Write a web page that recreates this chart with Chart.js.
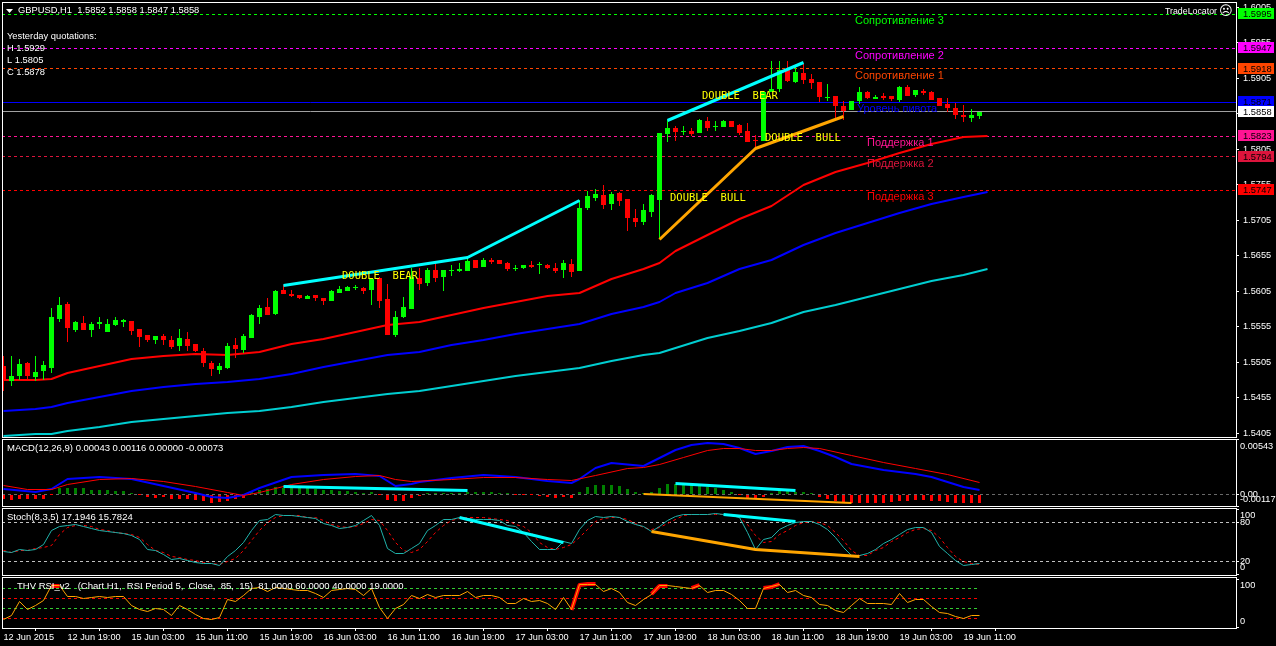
<!DOCTYPE html>
<html>
<head>
<meta charset="utf-8">
<title>GBPUSD,H1</title>
<script src="https://cdn.jsdelivr.net/npm/chart.js@4"></script>
<style>
html, body { margin: 0; padding: 0; background: #000; overflow: hidden; }
canvas { position: absolute; left: 0; }
</style>
</head>
<body>
<canvas id="mainChart" width="1276" height="438" style="top:0"></canvas>
<canvas id="macdChart" width="1276" height="69" style="top:438px"></canvas>
<canvas id="stochChart" width="1276" height="69" style="top:507px"></canvas>
<canvas id="rsiChart" width="1276" height="70" style="top:576px"></canvas>
<script>
// candles, one entry per H1 bar
const opens = [1.54994,1.54783,1.54853,1.55036,1.54839,1.54924,1.54966,1.55656,1.55868,1.55501,1.55600,1.55501,1.55586,1.55473,1.55572,1.55614,1.55628,1.55515,1.55431,1.55360,1.55417,1.55360,1.55276,1.55375,1.55304,1.55205,1.55036,1.54938,1.54966,1.55290,1.55219,1.55389,1.55684,1.55825,1.55727,1.56065,1.56009,1.55994,1.55938,1.55994,1.55952,1.55910,1.56023,1.56051,1.56093,1.56093,1.56065,1.56234,1.55938,1.55431,1.55684,1.55797,1.56234,1.56164,1.56347,1.56248,1.56333,1.56333,1.56333,1.56488,1.56389,1.56488,1.56488,1.56445,1.56361,1.56375,1.56417,1.56417,1.56417,1.56375,1.56347,1.56431,1.56333,1.57220,1.57361,1.57403,1.57277,1.57432,1.57347,1.57079,1.57023,1.57164,1.57333,1.58263,1.58348,1.58291,1.58305,1.58277,1.58446,1.58362,1.58362,1.58446,1.58390,1.58305,1.58178,1.58164,1.58855,1.58897,1.59165,1.58996,1.59122,1.59038,1.58996,1.58770,1.58798,1.58657,1.58601,1.58728,1.58855,1.58756,1.58798,1.58798,1.58742,1.58925,1.58812,1.58869,1.58855,1.58770,1.58686,1.58629,1.58531,1.58489,1.58520];
const highs = [1.55135,1.55135,1.55093,1.55050,1.55135,1.55065,1.55811,1.55966,1.55896,1.55628,1.55699,1.55614,1.55684,1.55656,1.55684,1.55656,1.55628,1.55515,1.55431,1.55417,1.55445,1.55417,1.55515,1.55473,1.55304,1.55248,1.55065,1.55036,1.55318,1.55389,1.55445,1.55727,1.55854,1.55952,1.56065,1.56135,1.56065,1.55994,1.55994,1.55994,1.55952,1.56065,1.56121,1.56121,1.56135,1.56107,1.56220,1.56248,1.56149,1.55769,1.55966,1.56375,1.56375,1.56375,1.56459,1.56347,1.56417,1.56445,1.56530,1.56488,1.56516,1.56516,1.56488,1.56459,1.56417,1.56417,1.56474,1.56459,1.56431,1.56445,1.56488,1.56502,1.57333,1.57460,1.57488,1.57544,1.57446,1.57446,1.57347,1.57206,1.57277,1.57418,1.58277,1.58460,1.58376,1.58376,1.58348,1.58474,1.58503,1.58446,1.58460,1.58446,1.58404,1.58418,1.58249,1.58855,1.59292,1.59292,1.59292,1.59207,1.59249,1.59108,1.58996,1.58967,1.58798,1.58728,1.58728,1.58925,1.58869,1.58812,1.58841,1.58798,1.58939,1.58953,1.58883,1.58897,1.58869,1.58770,1.58770,1.58700,1.58671,1.58615,1.58580];
const lows = [1.54642,1.54712,1.54797,1.54797,1.54783,1.54797,1.54895,1.55614,1.55332,1.55473,1.55501,1.55403,1.55515,1.55473,1.55558,1.55544,1.55431,1.55262,1.55332,1.55304,1.55290,1.55234,1.55205,1.55205,1.55191,1.54980,1.54853,1.54881,1.54952,1.55107,1.55177,1.55389,1.55586,1.55713,1.55713,1.56009,1.55966,1.55938,1.55938,1.55910,1.55854,1.55910,1.56023,1.56051,1.56065,1.56009,1.55854,1.55811,1.55431,1.55403,1.55670,1.55797,1.56065,1.56121,1.56178,1.56051,1.56262,1.56319,1.56333,1.56375,1.56389,1.56431,1.56431,1.56333,1.56333,1.56361,1.56375,1.56290,1.56361,1.56304,1.56234,1.56248,1.56333,1.57192,1.57319,1.57206,1.57192,1.57248,1.56896,1.56953,1.56981,1.57093,1.56783,1.58150,1.58164,1.58249,1.58235,1.58277,1.58305,1.58305,1.58362,1.58362,1.58249,1.58150,1.58037,1.58164,1.58855,1.58855,1.58996,1.58982,1.58967,1.58897,1.58714,1.58728,1.58460,1.58460,1.58601,1.58686,1.58756,1.58756,1.58742,1.58728,1.58714,1.58798,1.58784,1.58812,1.58742,1.58657,1.58573,1.58474,1.58432,1.58432,1.58470];
const closes = [1.54797,1.54853,1.55022,1.54853,1.54910,1.55008,1.55684,1.55854,1.55529,1.55614,1.55501,1.55586,1.55614,1.55586,1.55642,1.55642,1.55487,1.55403,1.55360,1.55417,1.55360,1.55262,1.55389,1.55276,1.55205,1.55036,1.54952,1.54994,1.55276,1.55234,1.55417,1.55713,1.55811,1.55713,1.56051,1.56009,1.55980,1.55952,1.55980,1.55952,1.55910,1.56051,1.56079,1.56107,1.56107,1.56051,1.56220,1.55910,1.55431,1.55684,1.55825,1.56248,1.56149,1.56347,1.56234,1.56347,1.56347,1.56361,1.56474,1.56375,1.56488,1.56459,1.56431,1.56361,1.56375,1.56417,1.56389,1.56431,1.56375,1.56333,1.56445,1.56319,1.57220,1.57389,1.57418,1.57263,1.57418,1.57319,1.57079,1.57023,1.57192,1.57403,1.58277,1.58348,1.58291,1.58305,1.58263,1.58460,1.58348,1.58376,1.58446,1.58362,1.58277,1.58150,1.58164,1.58855,1.58897,1.59165,1.59010,1.59136,1.59024,1.58982,1.58784,1.58784,1.58657,1.58587,1.58728,1.58855,1.58770,1.58784,1.58770,1.58756,1.58925,1.58798,1.58883,1.58841,1.58742,1.58657,1.58629,1.58531,1.58503,1.58531,1.58580];

// moving averages, read every few bars
const maBars = [0,4,6,8,12,16,20,24,28,32,36,40,44,48,52,56,60,64,68,72,76,80,82,84,88,92,96,100,104,108,112,116,120,123];
const maRed = [1.54797,1.54797,1.54811,1.54895,1.54994,1.55088,1.55135,1.55163,1.55149,1.55191,1.55304,1.55379,1.55477,1.55568,1.55610,1.55717,1.55816,1.55892,1.55976,1.56027,1.56224,1.56368,1.56445,1.56614,1.56840,1.57065,1.57248,1.57544,1.57732,1.57854,1.57995,1.58122,1.58216,1.58235];
const maBlue = [1.54360,1.54392,1.54421,1.54469,1.54557,1.54638,1.54694,1.54745,1.54773,1.54815,1.54881,1.54987,1.55065,1.55149,1.55187,1.55286,1.55360,1.55445,1.55511,1.55582,1.55723,1.55830,1.55900,1.56018,1.56159,1.56357,1.56488,1.56699,1.56872,1.57005,1.57146,1.57277,1.57380,1.57441];
const maAqua = [1.54008,1.54036,1.54043,1.54074,1.54135,1.54201,1.54247,1.54294,1.54328,1.54356,1.54416,1.54483,1.54547,1.54600,1.54642,1.54712,1.54783,1.54853,1.54914,1.54962,1.55065,1.55149,1.55173,1.55252,1.55384,1.55487,1.55596,1.55751,1.55854,1.55971,1.56079,1.56192,1.56276,1.56357];

// trend lines on the price panel
const cyanBarsA = [35,58,72];
const cyanPricesA = [1.56135,1.56526,1.57323];
const cyanBarsB = [83,100];
const cyanPricesB = [1.58450,1.59277];
const orangeBars = [82,94,105];
const orangePrices = [1.56779,1.58052,1.58507];

// daily pivot levels
const levelPrices = [1.5995,1.5947,1.5918,1.5871,1.5858,1.5823,1.5794,1.5747];
const levelFlags = ['1.5995','1.5947','1.5918','1.5871','1.5858','1.5823','1.5794','1.5747'];
const levelColors = ['#00ff00','#ff00ff','#ff4500','#0000ff','#a0a0a0','#ff1493','#dc143c','#ff0000'];
const flagColors = ['#00ff00','#ff00ff','#ff4500','#0000ff','#ffffff','#ff1493','#dc143c','#ff0000'];
const priceTicks = [1.5405,1.5455,1.5505,1.5555,1.5605,1.5655,1.5705,1.5755,1.5805,1.5855,1.5905,1.5955,1.6005];

// MACD
const macdHist = [-.00046,-.00056,-.0005,-.0005,-.0005,-.00046,-.00003,.00059,.00059,.00059,.00059,.00046,.00046,.0004,.00033,.00033,.0001,-.00007,-.00023,-.0004,-.0003,-.00043,-.00043,-.00046,-.00059,-.00066,-.00083,-.00079,-.00063,-.0005,-.00033,.00017,.0004,.00053,.00073,.00066,.00066,.00066,.00066,.00053,.00046,.0004,.00033,.00033,.0002,.00013,.0002,-.00003,-.00053,-.00066,-.00066,-.00033,-.00013,0,.00003,.00003,.00007,.00013,.0002,.0002,.0002,.0002,.0001,.00003,-.00003,-.00007,-.0001,-.00017,-.00023,-.00033,-.0003,-.00033,.00017,.00073,.00089,.00089,.00089,.00083,.0005,.00023,.00003,.0002,.00066,.00099,.00106,.00092,.00089,.00083,.00073,.00066,.00043,.0002,-.00007,-.00033,-.00033,-.00026,.00003,.0003,.0003,.00023,.0002,.00003,-.00023,-.00046,-.00063,-.00073,-.00083,-.00092,-.00086,-.00089,-.00083,-.00076,-.00069,-.00066,-.00053,-.00059,-.00069,-.00069,-.00076,-.00086,-.00089,-.00086,-.00083];
const macdMainBars = [0,4,6,8,12,16,20,24,26,28,30,32,36,40,44,47,49,51,52,56,60,64,68,71,72,74,76,80,82,84,86,88,90,92,94,96,98,100,102,104,106,108,110,112,114,116,118,120,122];
const macdMain = [.0005,.00026,.0005,.00149,.00175,.00155,.00083,.0001,-.00026,-.0004,-.0001,.00066,.00172,.00188,.00205,.00185,.00083,.00099,.00125,.00165,.00191,.00175,.00132,.00116,.00155,.00264,.00307,.00281,.00363,.00439,.00488,.00508,.00502,.00462,.00403,.00429,.00472,.00479,.00429,.00373,.00297,.00274,.00241,.00221,.00198,.00175,.00122,.00076,.00043];
const macdSignalBars = [0,3,6,8,12,16,20,24,28,30,32,36,40,44,47,49,51,56,60,64,68,71,74,78,80,82,85,88,90,92,94,96,98,100,102,106,110,114,118,122];
const macdSignal = [.00083,.0005,.00043,.00099,.00142,.00155,.00122,.00076,.00017,-.0001,.00017,.00099,.00149,.00178,.00182,.00149,.00129,.00149,.00168,.00165,.00149,.00139,.00182,.00257,.00264,.00297,.00363,.00429,.00455,.00452,.00432,.00436,.00455,.00459,.00452,.00389,.00314,.00257,.00198,.00116];
const macdCyanBarsA = [35,58];
const macdCyanA = [.00076,.00033];
const macdCyanBarsB = [84,99];
const macdCyanB = [.00102,.00033];
const macdOrangeBars = [80,106];
const macdOrange = [.00003,-.00086];
const macdTicks = [-.00117,0,.00543];
const macdTickLabels = [['-0.00117',''],'0.00',['','0.00543']];

// Stochastic
const stochMain = [34.4,32.8,38.5,37,38.5,45.6,66.7,73.3,75.4,77,74,71,66.7,66,64,62.6,60,52.8,38.5,36,31,23,24,21.5,18,16.4,16,14,28,36,48.7,67.7,83,84.6,91.8,90.8,89.7,88.7,87,86,78,75.4,70.8,71.8,74.4,83,89.7,74.4,39.5,32.3,32.3,39.5,47.7,66.7,75.4,84.6,84.6,87,85.6,84.6,84.6,83.6,82,75.4,73.3,64.1,49.7,37.4,37.4,37.4,49.7,47.7,69.2,82,88.2,87.2,89.2,87.2,80.5,76.9,72.8,65.6,72.8,82,88.7,91.8,92.3,92.3,92.3,92.8,92.3,89.7,87.2,64.1,37.4,52.8,56.4,69.2,75.4,79.5,80.5,81,76.9,69.2,56.4,41,28.2,28.2,32.3,38.5,47.7,52.8,61.5,69.2,71.8,71.8,64.1,42.6,32.3,20.5,13.8,15.4,17.19];
const stochSignal = [35.9,33,36,37,39.5,41,44.6,61.5,71.8,75.4,75.4,73.3,69,66.7,65,63,61,56.4,46,36,33,27,25.6,23,20.5,18,16.4,15.4,19,24,36,51.3,68,79.5,87,89.7,89.7,89.7,88,87,82,77,73.3,72.3,73.3,78.5,84.6,82,66.7,48.7,36,33,38.5,49.7,64,75.4,82,86,87,86.7,86.7,85.6,84.6,82,77,73.3,64,48.7,41,37.4,41,46,56.4,69,80.5,86,88,87,84.6,78.5,71.8,69,71.8,78.5,84.6,89.7,91.8,92.3,92.3,92.3,92.3,91.3,87,77,59,48.7,49.7,61.5,66.7,74.4,79.5,81.5,79.5,74.4,64,51.3,36,29,29,36,41,49.7,56.4,65,69,70,66.7,56.4,41,28,19,17,15.78];
const stochCyanBarsA = [57,70];
const stochCyanA = [87.2,48.7];
const stochCyanBarsB = [90,99];
const stochCyanB = [91.8,81];
const stochOrangeBars = [81,94,107];
const stochOrange = [65.6,37.4,27.2];
const stochLevels = [80,20];
const stochTicks = [0,20,80,100];
const stochTickLabels = [['0',''],'20','80',['','100']];

// THV RSI
const rsiValues = [15.6,23.8,52.8,37.6,44.5,56.2,86,86,63,63.8,59.6,61.7,63.8,62.4,64.5,64.5,44.5,37.6,32.8,39.7,37.6,25.2,45.9,36.2,27.3,19,15.6,20.4,58.3,53.4,65.2,81,82.4,73.4,82.4,80.3,79,76.9,75.5,70.7,61,75.5,79,80.3,79,66.5,81,41,19,39,48,66.5,60.3,68.6,61.7,65.2,66.5,66.5,74.1,61.7,66.5,65.2,61.7,50,50,59.6,54.1,56.2,50,37.6,62.4,36.2,87.9,89.3,89.3,74.1,81,72,51.4,45.9,58.3,68.6,85.8,85.8,84.4,82.4,81,87.2,72,75.5,76.2,68.6,54.8,39.7,39.7,81,84.4,89.3,72,76.9,66.5,61.7,46.6,44.5,35.5,30.7,44.5,60.3,50,50,50,48,70,51.4,58.3,56.9,43,32,29.3,22.4,18.3,25.2,25.2];
const rsiHotStart = [6,71,81,86,95];
const rsiHotEnd = [7,74,83,87,97];
const rsiLevels = [81,60,40,19];
const rsiLevelColors = ['#32cd32','#ff0000','#32cd32','#ff0000'];
const rsiTicks = [0,100];
const rsiTickLabels = [['0',''],['','100']];

// time axis
const timeBars = [0,8,16,24,32,40,48,56,64,72,80,88,96,104,112,120];
const timeLabels = ['12 Jun 2015','12 Jun 19:00','15 Jun 03:00','15 Jun 11:00','15 Jun 19:00','16 Jun 03:00','16 Jun 11:00','16 Jun 19:00','17 Jun 03:00','17 Jun 11:00','17 Jun 19:00','18 Jun 03:00','18 Jun 11:00','18 Jun 19:00','19 Jun 03:00','19 Jun 11:00'];

const GREEN = '#00ff00', RED = '#ff0000', CYAN = '#00ffff', ORANGE = '#ffa500', WHITE = '#ffffff';
const SANS = '"Liberation Sans"';
const X_MIN = -0.1875, X_MAX = 154.0625;
const LAST_BAR = opens.length - 1;

function pts(bars, vals) {
    return bars.map(function (b, i) { return { x: b, y: vals[i] }; });
}

function flat(value, from, to) {
    return [{ x: from, y: value }, { x: to, y: value }];
}

function line(data, color, width, order, dash) {
    return {
        type: 'line', data: data, borderColor: color, borderWidth: width, order: order,
        borderDash: dash || [], pointRadius: 0, tension: 0, fill: false, borderJoinStyle: 'round'
    };
}

function bars(data, colors, thickness, order) {
    return {
        type: 'bar', data: data, backgroundColor: colors, barThickness: thickness, order: order,
        grouped: false, borderWidth: 0, inflateAmount: 0
    };
}

// MT4 draws without antialiasing, so push marks onto whole pixels
const snapPlugin = {
    id: 'snap',
    afterDatasetsUpdate: function (chart) {
        chart.data.datasets.forEach(function (ds, i) {
            chart.getDatasetMeta(i).data.forEach(function (el) {
                if (ds.type === 'bar') {
                    el.y = Math.round(el.y);
                    el.base = Math.round(el.base);
                    if (el.y === el.base) el.y = el.base - 1;
                } else if (ds.borderWidth % 2 === 1) {
                    el.y = Math.floor(el.y) + 0.5;
                } else {
                    el.y = Math.round(el.y);
                }
            });
        });
    }
};

const framePlugin = {
    id: 'frame',
    afterDraw: function (chart) {
        const a = chart.chartArea, ctx = chart.ctx;
        ctx.save();
        ctx.strokeStyle = WHITE;
        ctx.lineWidth = 1;
        ctx.strokeRect(a.left + 0.5, a.top + 0.5, a.right - a.left, a.bottom - a.top);
        ctx.restore();
    }
};

function label(ctx, text, x, y, color, font) {
    ctx.fillStyle = color;
    ctx.font = font;
    ctx.textAlign = 'left';
    ctx.textBaseline = 'middle';
    ctx.fillText(text, x, y);
}

function captionPlugin(draw) {
    return { id: 'caption', afterDraw: function (chart) { chart.ctx.save(); draw(chart); chart.ctx.restore(); } };
}

function xAxis(show) {
    return {
        type: 'linear', min: X_MIN, max: X_MAX, offset: false, display: show,
        afterBuildTicks: function (scale) {
            scale.ticks = timeBars.map(function (b) { return { value: b }; });
        },
        afterFit: function (scale) {
            if (show) scale.height = 18;
            scale.paddingLeft = 0;
            scale.paddingRight = 0;
        },
        border: { display: false },
        grid: { drawOnChartArea: false, drawTicks: true, tickLength: 3, tickColor: WHITE },
        ticks: {
            autoSkip: false, maxRotation: 0, align: 'start', padding: 1, color: WHITE,
            font: { family: SANS, size: 9.2 },
            callback: function (v, i) { return timeLabels[i]; }
        }
    };
}

function yAxis(min, max, ticks, labels, pad) {
    return {
        type: 'linear', position: 'right', min: min, max: max,
        afterBuildTicks: function (scale) {
            scale.ticks = ticks.map(function (v) { return { value: v }; });
        },
        afterFit: function (scale) {
            scale.width = 40;
            scale.paddingTop = 0;
            scale.paddingBottom = 0;
        },
        border: { display: false },
        grid: { drawOnChartArea: false, drawTicks: true, tickLength: 3, tickColor: WHITE },
        ticks: {
            autoSkip: false, padding: pad, color: WHITE,
            font: { family: SANS, size: 9.2, lineHeight: '13px' },
            callback: function (v, i) { return labels[i]; }
        }
    };
}

function panel(id, datasets, yScale, padTop, padBottom, showTime, plugin) {
    return new Chart(document.getElementById(id), {
        type: 'bar',
        data: { datasets: datasets },
        plugins: [snapPlugin, framePlugin, plugin],
        options: {
            responsive: false, animation: false, devicePixelRatio: 1,
            layout: { padding: { left: 2, right: 0, top: padTop, bottom: padBottom } },
            plugins: { legend: { display: false }, tooltip: { enabled: false } },
            scales: { x: xAxis(showTime), y: yScale }
        }
    });
}

//
// price panel
//
const candleColors = opens.map(function (o, i) { return closes[i] >= o ? GREEN : RED; });
const bodies = opens.map(function (o, i) { return { x: i, y: [o, closes[i]] }; });
const wicks = lows.map(function (l, i) { return { x: i, y: [l, highs[i]] }; });

const mainSets = [
    line(pts(cyanBarsA, cyanPricesA), CYAN, 3, 1),
    line(pts(cyanBarsB, cyanPricesB), CYAN, 3, 1),
    line(pts(orangeBars, orangePrices), ORANGE, 3, 1),
    bars(bodies, candleColors, 5, 2),
    bars(wicks, candleColors, 1, 2),
    line(pts(maBars, maRed), RED, 2, 3),
    line(pts(maBars, maBlue), '#0000ff', 2, 3),
    line(pts(maBars, maAqua), '#00ced1', 2, 3)
];
levelPrices.forEach(function (p, i) {
    const solid = i === 3 || i === 4;
    mainSets.push(line(flat(p, X_MIN, X_MAX), levelColors[i], 1, 4, solid ? [] : [3, 3]));
});

const mainCaption = captionPlugin(function (chart) {
    const ctx = chart.ctx, y = chart.scales.y;
    const small = '9.35px ' + SANS, big = '11px ' + SANS, mono = '10.5px "DejaVu Sans Mono"';

    ctx.fillStyle = WHITE;
    ctx.beginPath();
    ctx.moveTo(6, 9);
    ctx.lineTo(13, 9);
    ctx.lineTo(9.5, 13);
    ctx.closePath();
    ctx.fill();
    label(ctx, 'GBPUSD,H1  1.5852 1.5858 1.5847 1.5858', 18, 10, WHITE, small);
    label(ctx, 'Yesterday quotations:', 7, 36, WHITE, small);
    label(ctx, 'H 1.5929', 7, 48, WHITE, small);
    label(ctx, 'L 1.5805', 7, 60, WHITE, small);
    label(ctx, 'C 1.5878', 7, 72, WHITE, small);
    label(ctx, 'TradeLocator', 1165, 12, WHITE, '8.8px ' + SANS);
    label(ctx, '\u2639', 1219, 12, WHITE, '13px "DejaVu Sans"');

    label(ctx, 'DOUBLE  BEAR', 342, 276, '#ffff00', mono);
    label(ctx, 'DOUBLE  BULL', 670, 198, '#ffff00', mono);
    label(ctx, 'DOUBLE  BEAR', 702, 96, '#ffff00', mono);
    label(ctx, 'DOUBLE  BULL', 765, 138, '#ffff00', mono);

    label(ctx, 'Сопротивление 3', 855, 21, '#00ff00', big);
    label(ctx, 'Сопротивление 2', 855, 56, '#ff00ff', big);
    label(ctx, 'Сопротивление 1', 855, 76, '#ff4500', big);
    label(ctx, 'Уровень пивота', 857, 109, '#0000ff', big);
    label(ctx, 'Поддержка 1', 867, 143, '#ff1493', big);
    label(ctx, 'Поддержка 2', 867, 164, '#dc143c', big);
    label(ctx, 'Поддержка 3', 867, 197, '#ff0000', big);

    // price flags on the right hand axis
    levelPrices.forEach(function (p, i) {
        const py = Math.round(y.getPixelForValue(p));
        ctx.fillStyle = flagColors[i];
        ctx.fillRect(1238, py - 6, 36, 11);
        label(ctx, levelFlags[i], 1243, py, '#000000', small);
    });
});

panel('mainChart', mainSets,
    yAxis(1.53994, 1.60123, priceTicks, priceTicks.map(function (v) { return v.toFixed(4); }), 4),
    2, 1, false, mainCaption);

//
// MACD panel
//
const histBars = macdHist.map(function (v, i) { return { x: i, y: [0, v] }; });
const histColors = macdHist.map(function (v) { return v >= 0 ? '#008000' : RED; });

panel('macdChart', [
    line(pts(macdCyanBarsA, macdCyanA), CYAN, 3, 1),
    line(pts(macdCyanBarsB, macdCyanB), CYAN, 3, 1),
    line(pts(macdOrangeBars, macdOrange), ORANGE, 2, 1),
    line(pts(macdSignalBars, macdSignal), RED, 1, 2),
    line(pts(macdMainBars, macdMain), '#0000ff', 2, 3),
    bars(histBars, histColors, 3, 4),
    line(flat(0, X_MIN, X_MAX), '#696969', 1, 5, [3, 3])
], yAxis(-.00117, .00548, macdTicks, macdTickLabels, 1), 1, 1, false, captionPlugin(function (chart) {
    label(chart.ctx, 'MACD(12,26,9) 0.00043 0.00116 0.00000 -0.00073', 7, 448.5 - 438, WHITE, '9.5px ' + SANS);
}));

//
// stochastic panel
//
const stochBars = stochMain.map(function (v, i) { return i; });
const stochSets = [
    line(pts(stochCyanBarsA, stochCyanA), CYAN, 3, 1),
    line(pts(stochCyanBarsB, stochCyanB), CYAN, 3, 1),
    line(pts(stochOrangeBars, stochOrange), ORANGE, 3, 1),
    line(pts(stochBars, stochMain), '#20b2aa', 1, 2),
    line(pts(stochBars, stochSignal), RED, 1, 3, [3, 3])
];
stochLevels.forEach(function (v) {
    stochSets.push(line(flat(v, X_MIN, X_MAX), '#c0c0c0', 1, 4, [3, 3]));
});

panel('stochChart', stochSets, yAxis(-1.08, 102, stochTicks, stochTickLabels, 1), 1, 1, false, captionPlugin(function (chart) {
    label(chart.ctx, 'Stoch(8,3,5) 17.1946 15.7824', 7, 517.7 - 507, WHITE, '9.5px ' + SANS);
}));

//
// RSI panel with the time axis under it
//
const rsiBars = rsiValues.map(function (v, i) { return i; });
const rsiSets = [line(pts(rsiBars, rsiValues), ORANGE, 1, 1)];
rsiHotStart.forEach(function (s, i) {
    const e = rsiHotEnd[i] + 1;
    rsiSets.push(line(pts(rsiBars.slice(s, e), rsiValues.slice(s, e)), RED, 4, 2));
});
rsiLevels.forEach(function (v, i) {
    rsiSets.push(line(flat(v, X_MIN, LAST_BAR), rsiLevelColors[i], 1, 3, [3, 3]));
});

panel('rsiChart', rsiSets, yAxis(-1.03, 104.3, rsiTicks, rsiTickLabels, 1), 1, 0, true, captionPlugin(function (chart) {
    label(chart.ctx, 'THV RSI_v2   (Chart H1,  RSI Period 5,  Close,  85,  15)  81.0000 60.0000 40.0000 19.0000', 17, 586.7 - 576, WHITE, '9.5px ' + SANS);
}));
</script>
</body>
</html>
